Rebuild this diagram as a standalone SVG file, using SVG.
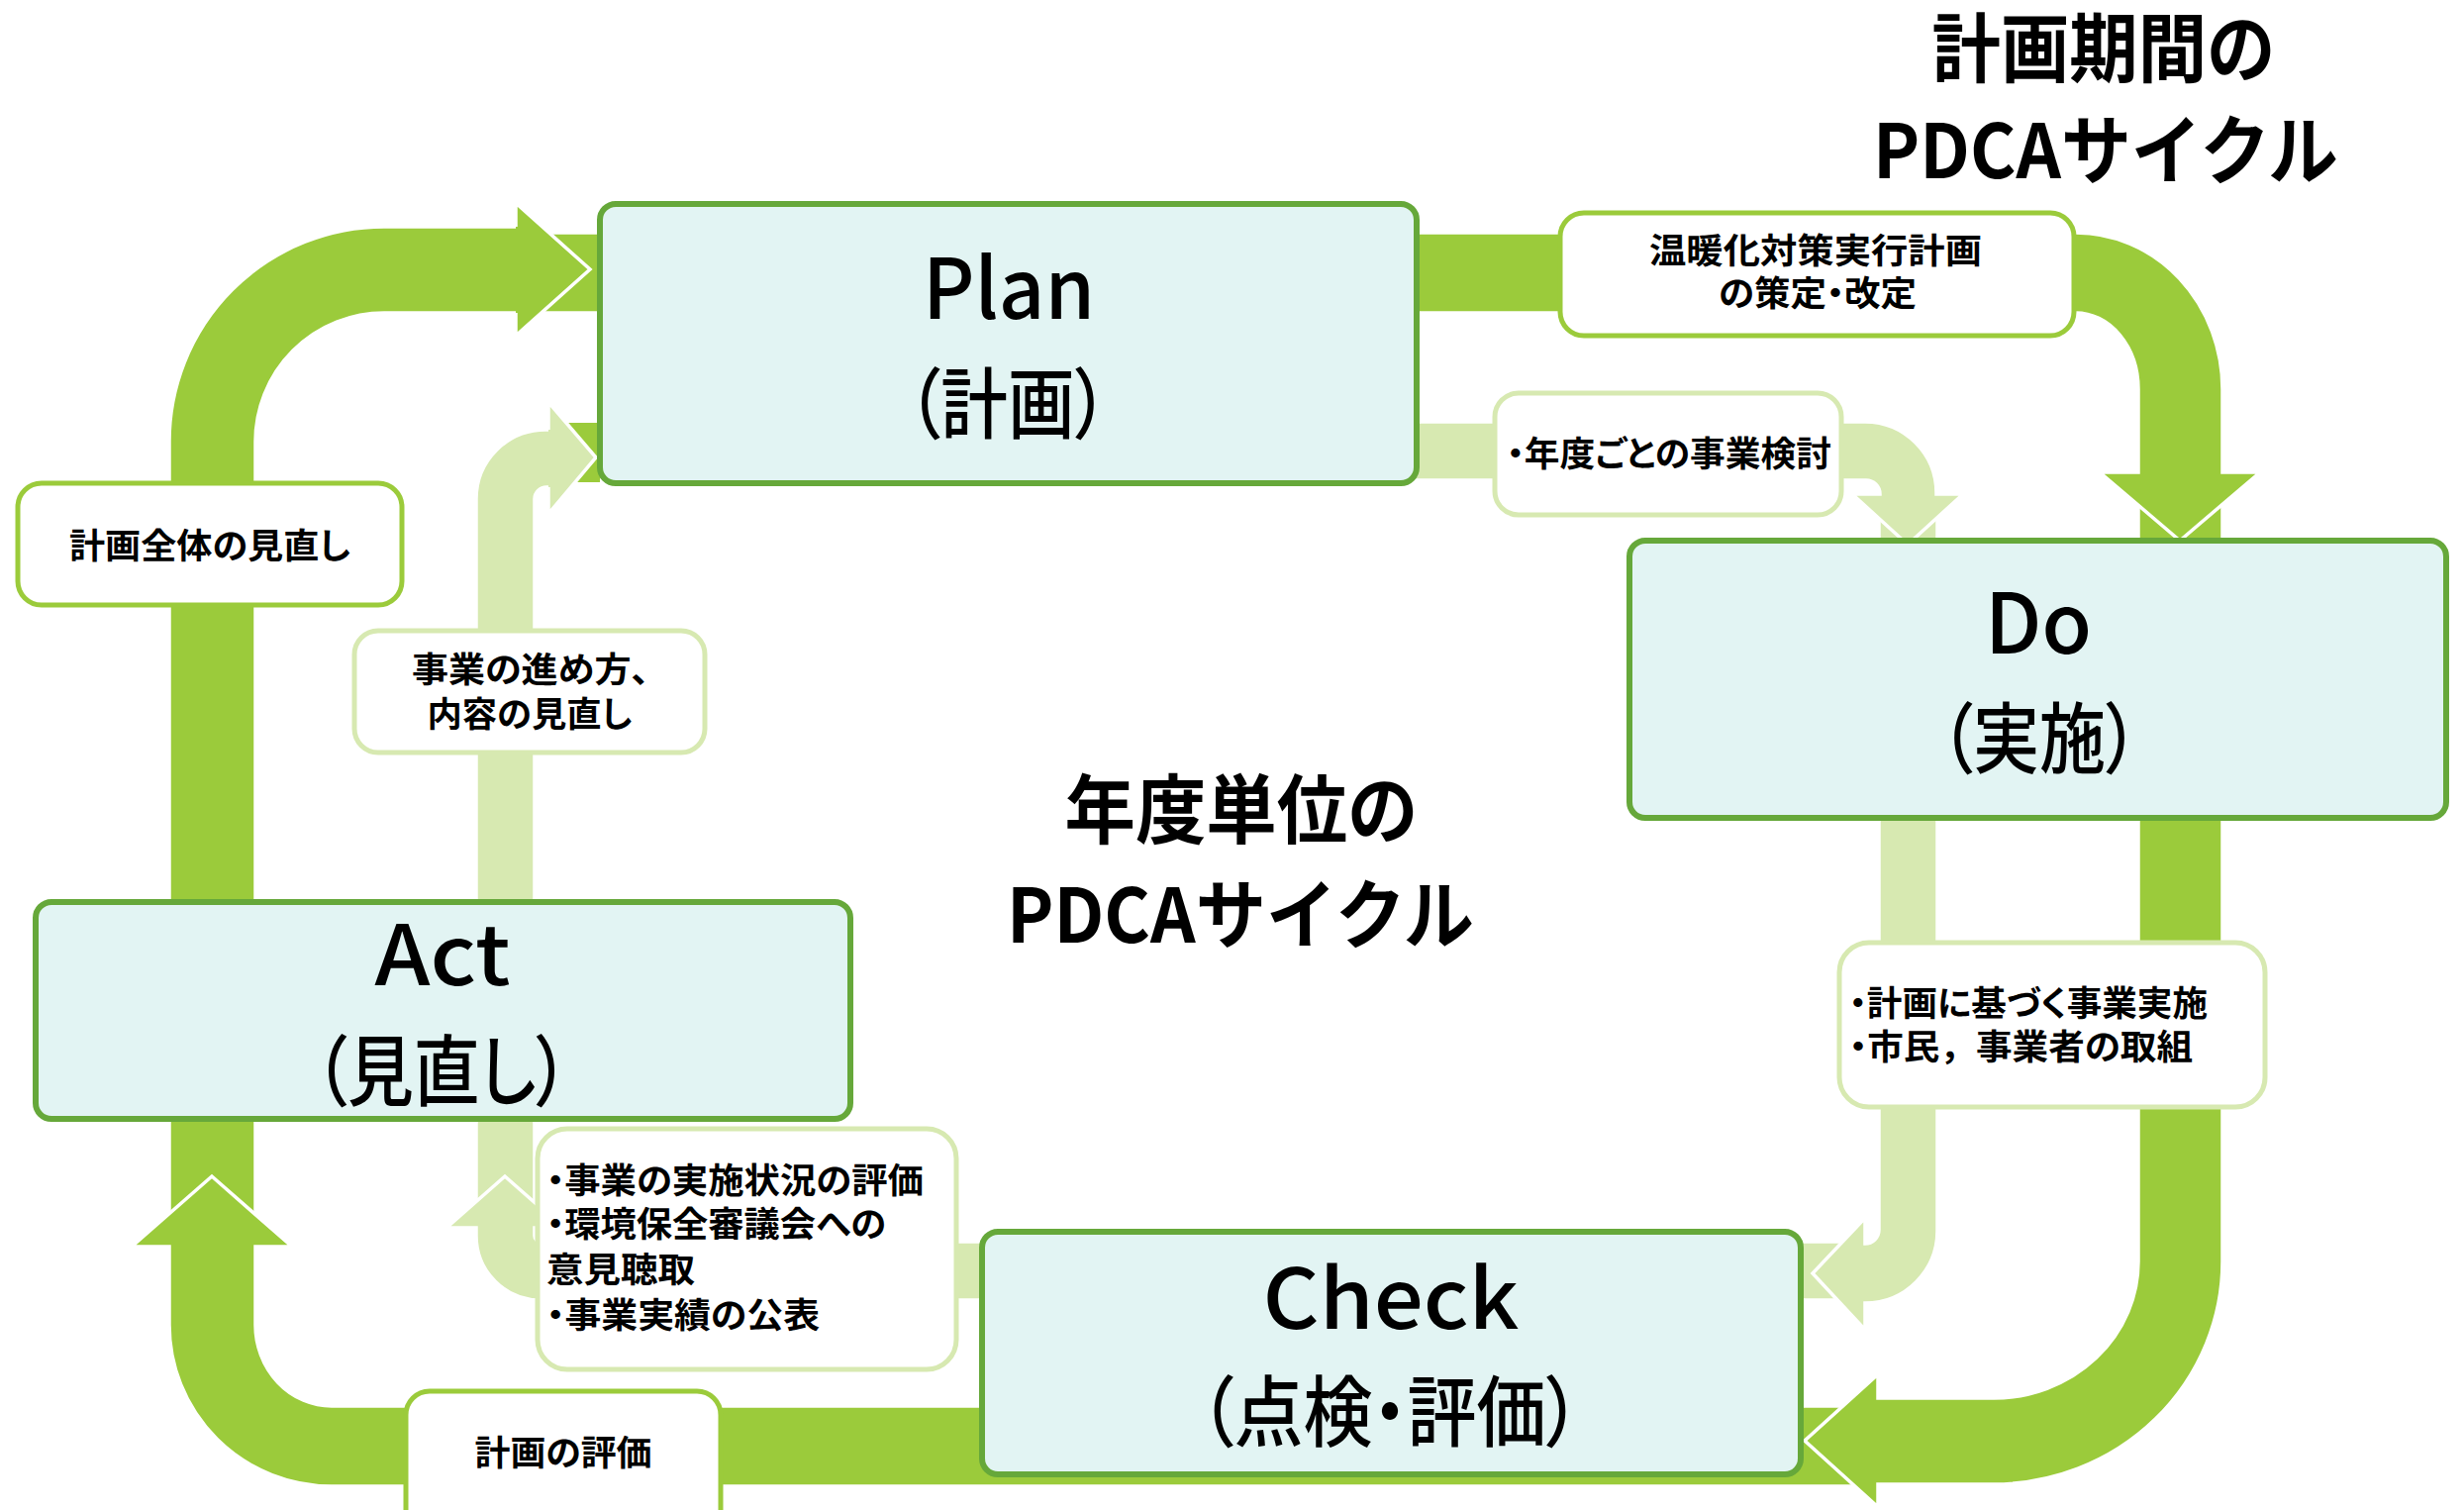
<svg xmlns="http://www.w3.org/2000/svg" width="2489" height="1525" viewBox="0 0 2489 1525">
<defs>
<style>
.dk{fill:#9BCB3B;stroke:#fff;stroke-width:3.5;stroke-linejoin:miter}
.lt{fill:#D7E9B1;stroke:#fff;stroke-width:3.5;stroke-linejoin:miter}
.dkf{fill:#9BCB3B}
.ltf{fill:#D7E9B1}
.edge{fill:none;stroke:#fff;stroke-width:3.5;stroke-linejoin:miter}
.main rect{fill:#E2F4F3;stroke:#66A83A;stroke-width:6}
.lbd rect{fill:#fff;stroke:#9BCB3B;stroke-width:5}
.lbl rect{fill:#fff;stroke:#D7E9B1;stroke-width:5}
text{font-family:"Noto Sans CJK JP","Noto Sans",sans-serif;fill:#000}
.big{font-size:76px;font-weight:700}
.en{font-size:84px;font-weight:500}
.jp{font-size:78px;font-weight:500;font-feature-settings:"palt" 1}
.lb{font-size:35px;font-weight:700;font-feature-settings:"palt" 1}
.fw{font-feature-settings:normal}
</style>
</defs>
<rect width="2489" height="1525" fill="#fff"/>

<g id="connectors">
  <!-- outer (plan period) cycle -->
  <path id="arrow-act-plan" class="dk" d="M171,1235 L171,446 A217,217 0 0 1 388,229 L521,229 L521,205 L596,272 L521,339 L521,316 L388,316 A130,130 0 0 0 258,446 L258,1235 Z"/>
  <path id="arrow-check-act" class="dk" d="M1880,1420 L1880,1501 L335,1501 A164,163 0 0 1 171,1338 L171,1259 L133,1259 L214,1188 L295,1259 L258,1259 L258,1338 A77,82 0 0 0 335,1420 Z"/>
  <path id="arrow-do-check" class="dk" d="M2160,500 L2245,500 L2245,1274 A231,225 0 0 1 2014,1499 L1897,1499 L1897,1522 L1823,1455 L1897,1388 L1897,1412 L2014,1412 A146,138 0 0 0 2160,1274 Z"/>
  <path id="arrow-plan-do" class="dk" d="M545,235 L2097,235 A148,158 0 0 1 2245,393 L2245,477 L2283,477 L2202,546 L2121,477 L2160,477 L2160,393 A63,77 0 0 0 2097,316 L545,316 Z"/>
  <path class="dkf" d="M521,229 L521,205 L596,272 L521,339 L521,316 Z"/>
  <path class="edge" d="M521,229 L521,205 L596,272 L521,339 L521,316"/>

  <!-- inner (yearly) cycle -->
  <path id="arrow-act-plan-y" class="lt" d="M481,1225 L481,504 A70,70 0 0 1 551,434 L554,434 L554,406 L602,462 L554,519 L554,492 L552,492 A12,12 0 0 0 540,504 L540,1225 Z"/>
  <path id="arrow-check-act-y" class="lt" d="M1865,1254 L1865,1313 L546,1313 A65,65 0 0 1 481,1248 L481,1240 L451,1240 L510,1188 L569,1240 L540,1240 L540,1248 A6,6 0 0 0 546,1254 Z"/>
  <path id="arrow-do-check-y" class="lt" d="M1898,515 L1957,515 L1957,1243 A73,73 0 0 1 1884,1316 L1884,1343 L1831,1286 L1884,1230 L1884,1256 A14,14 0 0 0 1898,1242 Z"/>
  <path id="arrow-plan-do-y" class="lt" d="M565,426 L1884,426 A72,72 0 0 1 1956,498 L1956,499 L1983,499 L1927,550 L1871,499 L1899,499 A14,14 0 0 0 1885,485 L565,485 Z"/>
  <rect class="dkf" x="566" y="427" width="40" height="60"/>
  <path class="ltf" d="M554,434 L554,406 L602,462 L554,519 L554,492 Z"/>
  <path class="edge" d="M554,434 L554,406 L602,462 L554,519 L554,492"/>
</g>

<g id="title-period">
  <text class="big" x="2125" y="77" text-anchor="middle" textLength="347" lengthAdjust="spacingAndGlyphs">計画期間の</text>
  <text class="big" x="2127" y="180" text-anchor="middle" textLength="470" lengthAdjust="spacingAndGlyphs">PDCAサイクル</text>
</g>
<g id="title-yearly">
  <text class="big" x="1254" y="846" text-anchor="middle" textLength="357" lengthAdjust="spacingAndGlyphs">年度単位の</text>
  <text class="big" x="1253" y="952" text-anchor="middle" textLength="472" lengthAdjust="spacingAndGlyphs">PDCAサイクル</text>
</g>

<g id="node-plan" class="main">
  <rect x="606" y="206" width="825" height="282" rx="16"/>
  <text class="en" x="1019" y="322" text-anchor="middle" textLength="174" lengthAdjust="spacingAndGlyphs">Plan</text>
  <text class="jp" x="1018" y="437" text-anchor="middle" textLength="203" lengthAdjust="spacingAndGlyphs">（計画）</text>
</g>
<g id="node-do" class="main">
  <rect x="1646" y="546" width="825" height="280" rx="16"/>
  <text class="en" x="2059" y="660" text-anchor="middle" textLength="108" lengthAdjust="spacingAndGlyphs">Do</text>
  <text class="jp" x="2060" y="775" text-anchor="middle" textLength="201" lengthAdjust="spacingAndGlyphs">（実施）</text>
</g>
<g id="node-check" class="main">
  <rect x="992" y="1244" width="827" height="245" rx="16"/>
  <text class="en" x="1405" y="1342" text-anchor="middle" textLength="259" lengthAdjust="spacingAndGlyphs">Check</text>
  <text class="jp" x="1404" y="1455" text-anchor="middle" textLength="385" lengthAdjust="spacingAndGlyphs">（点検・評価）</text>
</g>
<g id="node-act" class="main">
  <rect x="36" y="911" width="823" height="219" rx="16"/>
  <text class="en" x="447" y="995" text-anchor="middle" textLength="137" lengthAdjust="spacingAndGlyphs">Act</text>
  <text class="jp" x="446" y="1111" text-anchor="middle" textLength="257" lengthAdjust="spacingAndGlyphs">（見直し）</text>
</g>

<g id="label-plan-revise" class="lbd">
  <rect x="1576" y="215" width="519" height="124" rx="24"/>
  <text class="lb" x="1834" y="266" text-anchor="middle" textLength="336" lengthAdjust="spacingAndGlyphs">温暖化対策実行計画</text>
  <text class="lb" x="1836" y="309" text-anchor="middle" textLength="200" lengthAdjust="spacingAndGlyphs">の策定・改定</text>
</g>
<g id="label-yearly-study" class="lbl">
  <rect x="1510" y="397" width="350" height="123" rx="24"/>
  <text class="lb" x="1522" y="471" textLength="328" lengthAdjust="spacingAndGlyphs">・年度ごとの事業検討</text>
</g>
<g id="label-do" class="lbl">
  <rect x="1858" y="952" width="430" height="166" rx="30"/>
  <text class="lb" x="1868" y="1026" textLength="362" lengthAdjust="spacingAndGlyphs">・計画に基づく事業実施</text>
  <text class="lb" x="1868" y="1070" textLength="347" lengthAdjust="spacingAndGlyphs">・市民<tspan class="fw">，</tspan>事業者の取組</text>
</g>
<g id="label-check" class="lbl">
  <rect x="543" y="1140" width="423" height="243" rx="30"/>
  <text class="lb" x="552" y="1205" textLength="381" lengthAdjust="spacingAndGlyphs">・事業の実施状況の評価</text>
  <text class="lb" x="552" y="1249" textLength="343" lengthAdjust="spacingAndGlyphs">・環境保全審議会への</text>
  <text class="lb" x="552" y="1295" textLength="150" lengthAdjust="spacingAndGlyphs">意見聴取</text>
  <text class="lb" x="552" y="1341" textLength="276" lengthAdjust="spacingAndGlyphs">・事業実績の公表</text>
</g>
<g id="label-plan-eval" class="lbd">
  <rect x="410" y="1405" width="318" height="150" rx="24"/>
  <text class="lb" x="569" y="1480" text-anchor="middle" textLength="179" lengthAdjust="spacingAndGlyphs">計画の評価</text>
</g>
<g id="label-plan-review" class="lbd">
  <rect x="18" y="488" width="388" height="123" rx="24"/>
  <text class="lb" x="212" y="564" text-anchor="middle" textLength="284" lengthAdjust="spacingAndGlyphs">計画全体の見直し</text>
</g>
<g id="label-yearly-review" class="lbl">
  <rect x="358" y="637" width="354" height="123" rx="24"/>
  <text class="lb" x="416" y="689" textLength="240" lengthAdjust="spacingAndGlyphs">事業の進め方、</text>
  <text class="lb" x="535" y="734" text-anchor="middle" textLength="207" lengthAdjust="spacingAndGlyphs">内容の見直し</text>
</g>
</svg>
